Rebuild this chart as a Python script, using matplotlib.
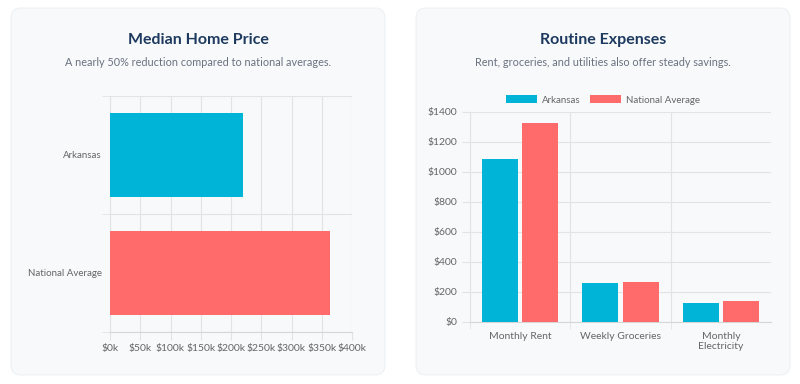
import matplotlib.pyplot as plt
from matplotlib.patches import FancyBboxPatch
from matplotlib.ticker import FuncFormatter

# data
home_labels = ["Arkansas", "National Average"]
home_prices = [220000, 363000]

expense_cats = ["Monthly Rent", "Weekly Groceries", "Monthly\nElectricity"]
arkansas_exp = [1090, 260, 130]
national_exp = [1325, 270, 137]

CYAN = "#00b4d8"
CORAL = "#ff6b6b"
GRID = "#e3e3e3"
TICK = "#666666"
TITLE = "#1e3a5f"
SUB = "#6b7280"

plt.rcParams["font.family"] = ["Lato", "DejaVu Sans"]

W, H = 800, 384
fig = plt.figure(figsize=(W / 100, H / 100), dpi=100)
fig.patch.set_facecolor("white")

# card backgrounds
bg = fig.add_axes([0, 0, 1, 1])
bg.set_xlim(0, W)
bg.set_ylim(H, 0)
bg.axis("off")
for x0 in (11, 416):
    bg.add_patch(FancyBboxPatch((x0, 8), 374, 367, boxstyle="round,pad=0,rounding_size=10",
                                facecolor="#f7f9fb", edgecolor="#eef1f4", lw=0.8))

for cx, t, s in [(198, "Median Home Price", "A nearly 50% reduction compared to national averages."),
                 (603, "Routine Expenses", "Rent, groceries, and utilities also offer steady savings.")]:
    bg.text(cx, 40, t, ha="center", va="center", fontsize=11.5, fontweight="bold", color=TITLE)
    bg.text(cx, 62, s, ha="center", va="center", fontsize=7.8, color=SUB)


def px(l, t, r, b):
    return [l / W, (H - b) / H, (r - l) / W, (b - t) / H]


# left chart: horizontal bars
ax1 = fig.add_axes(px(110, 96, 352, 332))
ax1.set_facecolor("none")
ypos = range(len(home_labels))
ax1.barh(ypos, home_prices, height=0.72, color=[CYAN, CORAL], zorder=3)
ax1.set_xlim(0, 400000)
ax1.set_ylim(1.5, -0.5)
ax1.set_xticks(range(0, 400001, 50000))
ax1.xaxis.set_major_formatter(FuncFormatter(lambda v, p: f"${int(v / 1000)}k"))
ax1.set_yticks(list(ypos))
ax1.set_yticklabels(home_labels)
ax1.set_yticks([-0.5, 0.5, 1.5], minor=True)
ax1.grid(axis="x", color=GRID, lw=0.8, zorder=0)
ax1.grid(axis="y", which="minor", color=GRID, lw=0.8, zorder=0)
ax1.tick_params(axis="y", which="major", length=0, pad=6, labelsize=7, labelcolor=TICK)
ax1.tick_params(axis="y", which="minor", length=6, color=GRID)
ax1.tick_params(axis="x", length=6, color=GRID, labelsize=7.5, labelcolor=TICK, pad=3)
for sp in ax1.spines.values():
    sp.set_visible(False)
ax1.spines["bottom"].set_visible(True)
ax1.spines["bottom"].set_color("#d6d6d6")
ax1.spines["left"].set_visible(True)
ax1.spines["left"].set_color(GRID)

# right chart: grouped bars
ax2 = fig.add_axes(px(470, 112, 771, 322))
ax2.set_facecolor("none")
xpos = list(range(len(expense_cats)))
bw = 0.36
ax2.bar([x - bw / 2 - 0.02 for x in xpos], arkansas_exp, width=bw, color=CYAN, label="Arkansas", zorder=3)
ax2.bar([x + bw / 2 + 0.02 for x in xpos], national_exp, width=bw, color=CORAL, label="National Average", zorder=3)
ax2.set_xlim(-0.5, 2.5)
ax2.set_ylim(0, 1400)
ax2.set_yticks(range(0, 1401, 200))
ax2.yaxis.set_major_formatter(FuncFormatter(lambda v, p: f"${int(v)}"))
ax2.set_xticks(xpos)
ax2.set_xticklabels(expense_cats)
ax2.set_xticks([-0.5, 0.5, 1.5], minor=True)
ax2.grid(axis="y", color=GRID, lw=0.8, zorder=0)
ax2.grid(axis="x", which="minor", color=GRID, lw=0.8, zorder=0)
ax2.tick_params(axis="x", which="major", length=0, pad=7, labelsize=7.5, labelcolor=TICK)
ax2.tick_params(axis="x", which="minor", length=5, color=GRID)
ax2.tick_params(axis="y", length=6, color=GRID, labelsize=7.5, labelcolor=TICK, pad=3)
for sp in ax2.spines.values():
    sp.set_visible(False)
ax2.spines["bottom"].set_visible(True)
ax2.spines["bottom"].set_color("#d6d6d6")
ax2.spines["left"].set_visible(True)
ax2.spines["left"].set_color(GRID)

fig.legend(loc="center", bbox_to_anchor=(603 / W, (H - 100) / H), ncol=2, frameon=False,
           fontsize=7, labelcolor=TICK, handlelength=3.2, handleheight=0.9,
           handletextpad=0.5, columnspacing=1.0)

fig.savefig("out.png", dpi=100)
